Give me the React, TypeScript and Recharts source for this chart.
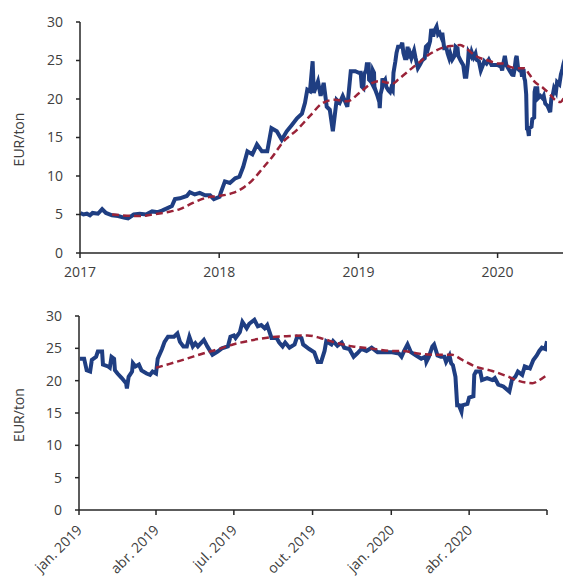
import React from "react";
import { LineChart, Line, XAxis, YAxis, Label } from "recharts";

// EUA spot price, EUR/ton
const priceDates = [
  "2017-01-02", "2017-01-10", "2017-01-19", "2017-01-27", "2017-02-03", "2017-02-17", "2017-02-28",
  "2017-03-10", "2017-03-26", "2017-04-11", "2017-04-26", "2017-05-07", "2017-05-22", "2017-06-07",
  "2017-06-23", "2017-07-09", "2017-07-24", "2017-08-04", "2017-08-17", "2017-08-30", "2017-09-07",
  "2017-09-20", "2017-10-08", "2017-10-16", "2017-10-29", "2017-11-11", "2017-11-25", "2017-12-08",
  "2017-12-18", "2018-01-02", "2018-01-05", "2018-01-16", "2018-01-29", "2018-02-12", "2018-02-23",
  "2018-03-05", "2018-03-16", "2018-03-29", "2018-04-10", "2018-04-23", "2018-05-07", "2018-05-18",
  "2018-06-01", "2018-06-14", "2018-06-27", "2018-07-10", "2018-07-24", "2018-08-06", "2018-08-14",
  "2018-08-20", "2018-08-27", "2018-09-03", "2018-09-06", "2018-09-17", "2018-09-24", "2018-10-02",
  "2018-10-10", "2018-10-18", "2018-10-26", "2018-11-05", "2018-11-13", "2018-11-21", "2018-12-03",
  "2018-12-12", "2018-12-24",
  "2019-01-02", "2019-01-07", "2019-01-10", "2019-01-14", "2019-01-16", "2019-01-21", "2019-01-23",
  "2019-01-28", "2019-01-29", "2019-02-04", "2019-02-06", "2019-02-08", "2019-02-11", "2019-02-12",
  "2019-02-15", "2019-02-20", "2019-02-25", "2019-02-26", "2019-02-28", "2019-03-04", "2019-03-05",
  "2019-03-08", "2019-03-12", "2019-03-15", "2019-03-21", "2019-03-25", "2019-03-28", "2019-04-01",
  "2019-04-03", "2019-04-08", "2019-04-11", "2019-04-15", "2019-04-22", "2019-04-26", "2019-04-29",
  "2019-05-03", "2019-05-07", "2019-05-10", "2019-05-14", "2019-05-17", "2019-05-20", "2019-05-27",
  "2019-05-31", "2019-06-06", "2019-06-12", "2019-06-17", "2019-06-24", "2019-06-27", "2019-07-01",
  "2019-07-03", "2019-07-08", "2019-07-11", "2019-07-16", "2019-07-19", "2019-07-25", "2019-07-29",
  "2019-08-02", "2019-08-06", "2019-08-09", "2019-08-14", "2019-08-20", "2019-08-23", "2019-08-27",
  "2019-08-30", "2019-09-04", "2019-09-10", "2019-09-13", "2019-09-18", "2019-09-20", "2019-09-27",
  "2019-10-03", "2019-10-07", "2019-10-11", "2019-10-15", "2019-10-17", "2019-10-23", "2019-10-25",
  "2019-10-30", "2019-11-04", "2019-11-07", "2019-11-13", "2019-11-18", "2019-11-22", "2019-11-27",
  "2019-12-03", "2019-12-09", "2019-12-16", "2019-12-23", "2020-01-02", "2020-01-10", "2020-01-13",
  "2020-01-16", "2020-01-20", "2020-01-24", "2020-01-30", "2020-02-05", "2020-02-10", "2020-02-11",
  "2020-02-14", "2020-02-18", "2020-02-20", "2020-02-24", "2020-02-28", "2020-03-03", "2020-03-05",
  "2020-03-09", "2020-03-11", "2020-03-13", "2020-03-16", "2020-03-18", "2020-03-20", "2020-03-23",
  "2020-03-24", "2020-03-30", "2020-04-01", "2020-04-06", "2020-04-07", "2020-04-09", "2020-04-14",
  "2020-04-16", "2020-04-22", "2020-04-28", "2020-05-01", "2020-05-05", "2020-05-11", "2020-05-18",
  "2020-05-21", "2020-05-25", "2020-05-28", "2020-06-02", "2020-06-05", "2020-06-11", "2020-06-15",
  "2020-06-19", "2020-06-22", "2020-06-25", "2020-06-29", "2020-07-01",
];
const priceValues = [
  5.2, 5.0, 5.1, 4.9, 5.2, 5.1, 5.7,
  5.2, 4.9, 4.8, 4.6, 4.5, 5.0, 5.1,
  5.0, 5.4, 5.3, 5.5, 5.8, 6.1, 7.0,
  7.1, 7.4, 7.9, 7.6, 7.8, 7.5, 7.5,
  7.0, 7.3, 7.8, 9.3, 9.1, 9.7, 9.9,
  11.2, 13.2, 12.8, 14.1, 13.2, 13.2, 16.2,
  15.8, 14.7, 15.8, 16.6, 17.5, 18.1, 19.5,
  21.2, 21.0, 24.9, 20.8, 22.3, 20.4, 22.1,
  19.0, 18.6, 15.8, 19.9, 19.5, 20.4, 19.0,
  23.6, 23.6,
  23.4, 23.4, 21.6, 21.4, 23.2, 23.7, 24.5,
  24.5, 22.5, 22.2, 22.0, 23.7, 23.4, 21.6,
  21.1, 20.4, 19.6, 18.8, 20.6, 21.4, 22.7,
  22.2, 22.5, 21.6, 21.1, 20.9, 21.4, 21.1,
  23.4, 24.9, 26.0, 26.8, 26.8, 27.3, 26.0,
  25.3, 25.3, 26.8, 25.3, 25.8, 25.3, 26.3,
  25.3, 24.0, 24.5, 25.0, 25.3, 26.8, 27.0,
  26.6, 27.5, 29.1, 28.1, 28.8, 29.4, 28.4,
  28.6, 28.1, 28.6, 26.6, 26.6, 25.9, 25.3,
  25.9, 25.1, 25.6, 26.8, 26.6, 25.6, 24.9,
  24.4, 22.9, 22.9, 24.6, 26.1, 25.6, 26.1,
  25.4, 25.9, 25.1, 24.9, 23.7, 24.2, 24.9,
  24.6, 25.1, 24.4, 24.4, 24.4, 24.2, 23.7,
  24.6, 25.6, 24.4, 23.9, 23.4, 23.7, 22.9,
  23.7, 25.3, 25.6, 23.9, 23.7, 23.7, 22.9,
  23.9, 22.7, 22.4, 20.6, 16.2, 16.2, 15.2,
  16.2, 16.4, 17.4, 17.6, 20.9, 21.4, 21.4,
  20.1, 20.4, 20.1, 20.4, 19.4, 19.1, 18.3,
  20.1, 20.6, 21.4, 20.9, 22.2, 21.9, 23.2,
  23.9, 24.6, 25.1, 24.9, 26.1,
];

// moving average (dashed)
const maDates = [
  "2017-03-26", "2017-05-04", "2017-06-07", "2017-07-11", "2017-08-17", "2017-09-20", "2017-10-24",
  "2017-11-30", "2017-12-31", "2018-02-06", "2018-03-09", "2018-03-30", "2018-04-25", "2018-05-22",
  "2018-06-17", "2018-07-24", "2018-08-27", "2018-09-30", "2018-10-31", "2018-12-02", "2019-01-04",
  "2019-02-07", "2019-02-25", "2019-03-20", "2019-04-01", "2019-04-17", "2019-05-07", "2019-05-26",
  "2019-06-11", "2019-06-30", "2019-07-20", "2019-08-12", "2019-09-05", "2019-09-25", "2019-10-10",
  "2019-10-30", "2019-11-17", "2019-12-07", "2020-01-03", "2020-01-14", "2020-02-01", "2020-02-21",
  "2020-03-12", "2020-03-24", "2020-04-08", "2020-04-28", "2020-05-17", "2020-05-28", "2020-06-14",
  "2020-06-21", "2020-06-29",
];
const maValues = [
  5.0, 4.85, 4.8, 5.0, 5.3, 5.7, 6.5,
  7.2, 7.4, 7.8, 8.6, 9.5, 11.0, 12.6,
  14.4, 16.0, 17.8, 19.5, 19.9, 19.7, 20.8,
  22.1, 22.3, 22.1, 22.0, 22.6, 23.4, 24.2,
  24.8, 25.6, 26.2, 26.7, 26.9, 27.0, 26.6,
  25.8, 25.3, 25.0, 24.6, 24.6, 24.2, 24.0,
  24.0, 23.2, 22.2, 21.5, 20.6, 20.0, 19.6,
  20.0, 20.7,
];

const yTicks = [0, 5, 10, 15, 20, 25, 30];
const topTickDates = ["2017-01-01", "2018-01-01", "2019-01-01", "2020-01-01"];
const topTickLabels = ["2017", "2018", "2019", "2020"];
const bottomTickDates = [
  "2019-01-01", "2019-04-01", "2019-07-01", "2019-10-01", "2020-01-01", "2020-04-01", "2020-07-01",
];
const bottomTickLabels = ["jan. 2019", "abr. 2019", "jul. 2019", "out. 2019", "jan. 2020", "abr. 2020", ""];

const toT = (d: string) => Date.parse(d + "T00:00:00Z");

const price = priceDates.map((d, i) => ({ t: toT(d), v: priceValues[i] }));
const ma = maDates.map((d, i) => ({ t: toT(d), v: maValues[i] }));

const BLUE = "#1f3e82";
const RED = "#9a2338";
const AXIS = "#262626";
const TEXT = "#404040";
const FONT = "'Open Sans', sans-serif";

const tickStyle = { fontSize: 14, fill: TEXT, fontFamily: FONT };

const YTitle = (props: any) => {
  const vb = props.viewBox || { y: 0, height: 0 };
  const cx = 18;
  const cy = vb.y + vb.height / 2 + 2;
  return (
    <text
      x={cx}
      y={cy}
      transform={`rotate(-90, ${cx}, ${cy})`}
      textAnchor="middle"
      dominantBaseline="central"
      fill={TEXT}
      fontSize={14}
      fontFamily={FONT}
    >
      EUR/ton
    </text>
  );
};

const RotTick = (props: any) => {
  const { x, payload } = props;
  const i = bottomTickDates.findIndex((d) => toT(d) === payload.value);
  const label = i >= 0 ? bottomTickLabels[i] : "";
  const tx = x + 4;
  const ty = 241;
  return (
    <text
      x={tx}
      y={ty}
      transform={`rotate(-45, ${tx}, ${ty})`}
      textAnchor="end"
      fill={TEXT}
      fontSize={14}
      fontFamily={FONT}
    >
      {label}
    </text>
  );
};

const axisLine = { stroke: AXIS, strokeWidth: 1.5 };

export default function App() {
  const topStart = toT("2017-01-01");
  const bottomStart = toT("2019-01-01");
  const end = toT("2020-07-01");
  const bottomMaStart = toT("2019-04-01");

  return (
    <div style={{ position: "relative", width: 563, height: 581, overflow: "hidden", background: "#fff" }}>
      <style>{`body{margin:0;overflow:hidden}`}</style>
      <div style={{ position: "absolute", left: 0, top: 0 }}>
        <LineChart width={568} height={290} margin={{ top: 22, right: 1, bottom: 7, left: 0 }}>
          <XAxis
            dataKey="t"
            type="number"
            domain={[topStart, end]}
            allowDataOverflow
            ticks={topTickDates.map(toT)}
            tickFormatter={(v: number) => topTickLabels[topTickDates.map(toT).indexOf(v)] ?? ""}
            height={30}
            tickSize={5}
            tickMargin={9}
            axisLine={axisLine}
            tickLine={axisLine}
            tick={tickStyle}
          />
          <YAxis
            type="number"
            domain={[0, 30]}
            ticks={yTicks}
            width={80}
            tickSize={4}
            tickMargin={13}
            axisLine={axisLine}
            tickLine={axisLine}
            tick={tickStyle}
          >
            <Label content={<YTitle />} />
          </YAxis>
          <Line
            data={price}
            dataKey="v"
            type="linear"
            stroke={BLUE}
            strokeWidth={4}
            dot={false}
            isAnimationActive={false}
          />
          <Line
            data={ma}
            dataKey="v"
            type="monotone"
            stroke={RED}
            strokeWidth={2.5}
            strokeDasharray="7 4"
            dot={false}
            isAnimationActive={false}
          />
        </LineChart>
      </div>
      <div style={{ position: "absolute", left: 0, top: 290 }}>
        <LineChart width={563} height={291} margin={{ top: 26, right: 16, bottom: 0, left: 0 }}>
          <XAxis
            dataKey="t"
            type="number"
            domain={[bottomStart, end]}
            allowDataOverflow
            ticks={bottomTickDates.map(toT)}
            height={71}
            tickSize={5}
            interval={0}
            axisLine={axisLine}
            tickLine={axisLine}
            tick={<RotTick />}
          />
          <YAxis
            type="number"
            domain={[0, 30]}
            ticks={yTicks}
            width={79}
            tickSize={4}
            tickMargin={13}
            axisLine={axisLine}
            tickLine={axisLine}
            tick={tickStyle}
          >
            <Label content={<YTitle />} />
          </YAxis>
          <Line
            data={price.filter((p) => p.t >= bottomStart)}
            dataKey="v"
            type="linear"
            stroke={BLUE}
            strokeWidth={4}
            dot={false}
            isAnimationActive={false}
          />
          <Line
            data={ma.filter((p) => p.t >= bottomMaStart)}
            dataKey="v"
            type="monotone"
            stroke={RED}
            strokeWidth={2.5}
            strokeDasharray="7 4"
            dot={false}
            isAnimationActive={false}
          />
        </LineChart>
      </div>
    </div>
  );
}
